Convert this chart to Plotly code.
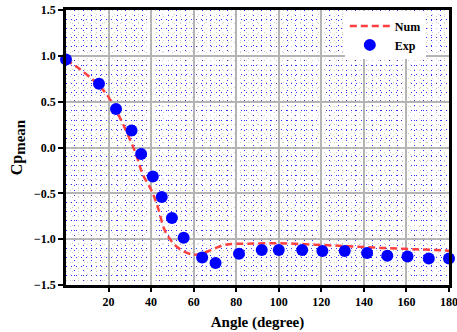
import plotly.graph_objects as go

# Experimental data
exp_angle = [0, 15.5, 23.5, 30.8, 35.3, 40.8, 45, 49.8, 55.3, 64, 70.3, 81.3, 92, 100, 111, 120.5, 131, 141.5, 151, 160.5, 170.5, 180]
exp_cp = [0.96, 0.695, 0.42, 0.186, -0.07, -0.317, -0.54, -0.77, -0.985, -1.20, -1.26, -1.16, -1.117, -1.117, -1.117, -1.13, -1.13, -1.15, -1.18, -1.19, -1.21, -1.21]

# Numerical curve
num_angle = [0, 5, 10, 15, 20, 25, 30, 33, 36, 40, 43, 46, 48, 51, 55, 60, 63, 66, 70, 75, 85, 100, 117, 133, 148, 164, 180]
num_cp = [0.96, 0.88, 0.79, 0.69, 0.55, 0.34, 0.09, -0.08, -0.29, -0.46, -0.64, -0.88, -0.97, -1.06, -1.13, -1.17, -1.16, -1.14, -1.10, -1.06, -1.05, -1.045, -1.06, -1.077, -1.095, -1.11, -1.125]

x_ticks = [20, 40, 60, 80, 100, 120, 140, 160, 180]
y_ticks = [-1.5, -1.0, -0.5, 0.0, 0.5, 1.0, 1.5]

FONT = "Liberation Serif, Times New Roman, serif"

fig = go.Figure()
fig.add_trace(go.Scatter(x=num_angle, y=num_cp, mode="lines", name="Num",
                         line=dict(color="#ff4040", width=2.5, dash="7px,4px"),
                         line_shape="spline"))
fig.add_trace(go.Scatter(x=exp_angle, y=exp_cp, mode="markers", name="Exp",
                         marker=dict(color="#0000ff", size=12), cliponaxis=False))
# invisible trace on overlay axes so they render
fig.add_trace(go.Scatter(x=[0], y=[0], xaxis="x2", yaxis="y2", mode="markers",
                         marker=dict(opacity=0), showlegend=False, hoverinfo="skip"))

fig.update_layout(
    width=457, height=332,
    margin=dict(l=66, r=8, t=10, b=47),
    paper_bgcolor="white", plot_bgcolor="white",
    font=dict(family=FONT, color="black"),
    showlegend=True,
    legend=dict(x=0.728, y=0.995, xanchor="left", yanchor="top",
                bgcolor="white", borderwidth=0,
                font=dict(family=FONT, size=12, weight="bold"),
                entrywidth=74, itemwidth=40, tracegroupgap=2),
    xaxis=dict(range=[0, 180], tickvals=x_ticks, ticks="outside", ticklen=4,
               tickwidth=1.5, tickcolor="black", automargin=False,
               ticklabeloverflow="allow",
               showgrid=True, gridcolor="#b4b4b4", gridwidth=1.5,
               minor=dict(dtick=4, showgrid=True, gridcolor="#3030ff",
                          griddash="1px,4px", gridwidth=1),
               showline=True, linecolor="black", linewidth=2.5, mirror=True,
               zeroline=False,
               tickfont=dict(family=FONT, size=12, weight="bold"),
               title=dict(text="Angle (degree)", standoff=9,
                          font=dict(family=FONT, size=15, weight="bold"))),
    yaxis=dict(range=[-1.5, 1.5], tickvals=y_ticks, tickformat=".1f",
               ticks="outside", ticklen=5, tickwidth=1.5, tickcolor="black",
               automargin=False, ticklabeloverflow="allow",
               showgrid=True, gridcolor="#b4b4b4", gridwidth=1.5,
               minor=dict(dtick=0.1, showgrid=True, gridcolor="#3030ff",
                          griddash="1px,4px", gridwidth=1),
               showline=True, linecolor="black", linewidth=2.5, mirror=True,
               zeroline=False,
               tickfont=dict(family=FONT, size=12, weight="bold"),
               title=dict(text="Cp<sub><span style='font-size:15px'>mean</span></sub>",
                          standoff=8,
                          font=dict(family=FONT, size=16, weight="bold"))),
    xaxis2=dict(overlaying="x", range=[0, 180], tickvals=list(range(2, 180, 4)),
                showticklabels=False, ticks="", showgrid=True,
                gridcolor="#cccccc", griddash="1px,5px", gridwidth=1,
                showline=False, zeroline=False),
    yaxis2=dict(overlaying="y", range=[-1.5, 1.5],
                tickvals=[round(-1.45 + 0.1 * i, 2) for i in range(30)],
                showticklabels=False, ticks="", showgrid=True,
                gridcolor="#cccccc", griddash="1px,5px", gridwidth=1,
                showline=False, zeroline=False),
)

fig.write_html("out.html")
